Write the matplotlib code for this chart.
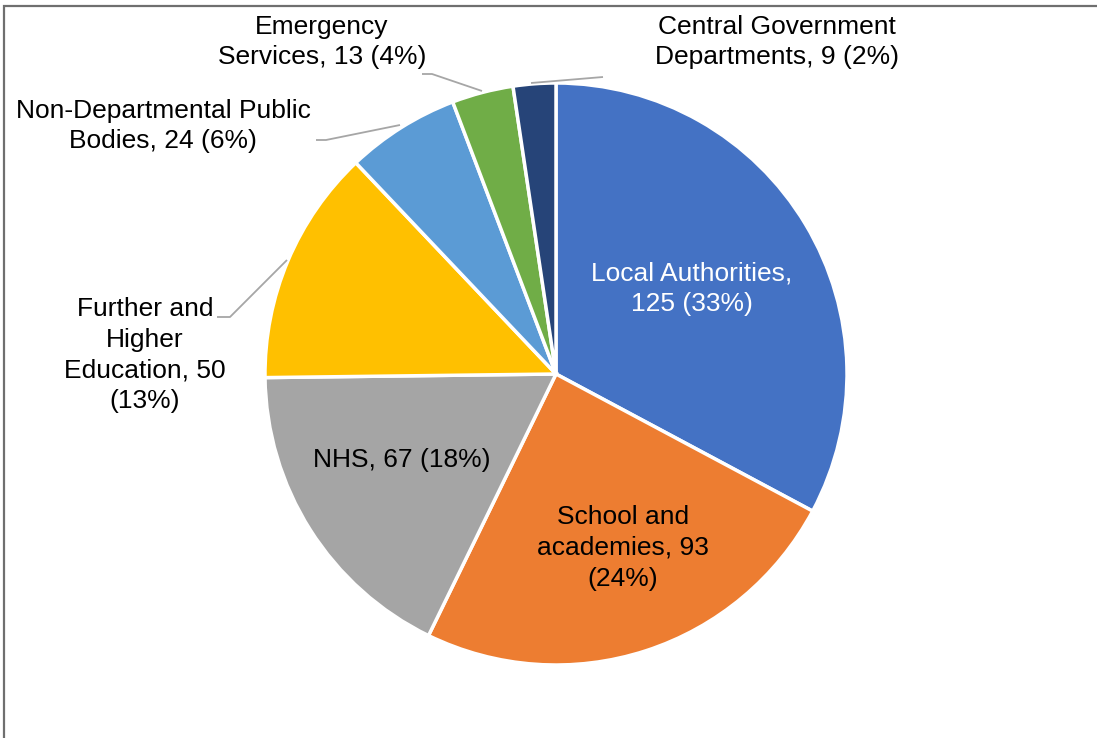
import matplotlib.pyplot as plt
from matplotlib.patches import Rectangle

plt.rcParams['font.family'] = ['Liberation Sans', 'DejaVu Sans']

categories = ['Local Authorities', 'School and academies', 'NHS',
              'Further and Higher Education', 'Non-Departmental Public Bodies',
              'Emergency Services', 'Central Government Departments']
counts = [125, 93, 67, 50, 24, 13, 9]
percents = [33, 24, 18, 13, 6, 4, 2]
label_fmt = [
    'Local Authorities,\n{n} ({p}%)',
    'School and\nacademies, {n}\n({p}%)',
    'NHS, {n} ({p}%)',
    'Further and\nHigher\nEducation, {n}\n({p}%)',
    'Non-Departmental Public\nBodies, {n} ({p}%)',
    'Emergency\nServices, {n} ({p}%)',
    'Central Government\nDepartments, {n} ({p}%)',
]
colors = ['#4472C4', '#ED7D31', '#A5A5A5', '#FFC000', '#5B9BD5', '#70AD47', '#264478']

W, H = 1097, 738
fig = plt.figure(figsize=(W / 100, H / 100), dpi=100)
ax = fig.add_axes([0, 0, 1, 1])

cx, cy, r = 556, H - 374, 291
ax.pie(counts, colors=colors, startangle=90, counterclock=False,
       center=(cx, cy), radius=r, frame=True,
       wedgeprops=dict(edgecolor='white', linewidth=2.5))
ax.set_xlim(0, W)
ax.set_ylim(0, H)
ax.set_aspect('equal')
ax.axis('off')

# label positions (x, y from top), text colour
spots = [(692, 289, 'white'), (623, 548, 'black'), (402, 460, 'black'),
         (145, 355, 'black'), (163, 126, 'black'), (322, 42, 'black'),
         (777, 42, 'black')]
for fmt, n, p, (x, y, c) in zip(label_fmt, counts, percents, spots):
    ax.text(x, H - y, fmt.format(n=n, p=p), ha='center', va='center',
            color=c, fontsize=19, linespacing=1.36)

# leader lines for the outside labels
leaders = [
    [(217, 317), (230, 317), (287, 260)],
    [(316, 140), (326, 140), (400, 125)],
    [(422, 74), (432, 74), (482, 91)],
    [(531, 83), (603, 77)],
]
for pts in leaders:
    xs = [p[0] for p in pts]
    ys = [H - p[1] for p in pts]
    ax.plot(xs, ys, color='#A6A6A6', linewidth=1.3, solid_capstyle='butt')

fig.patches.append(Rectangle((4, -20), W + 20, H - 6 + 20, transform=None,
                             fill=False, edgecolor='#6F6F6F', linewidth=1.6))

fig.savefig('out.png', dpi=100)
